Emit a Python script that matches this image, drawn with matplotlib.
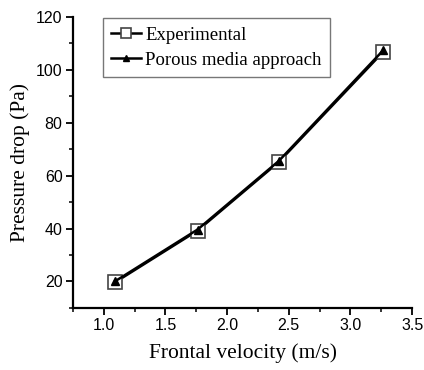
import matplotlib.pyplot as plt
from matplotlib.ticker import MultipleLocator

velocity = [1.09, 1.76, 2.42, 3.265]
experimental = [19.6, 39.2, 65.2, 106.8]
porous = [20.0, 39.6, 65.6, 107.4]

fig = plt.figure(figsize=(4.24, 3.7), dpi=100)
ax = fig.add_axes([0.172, 0.168, 0.800, 0.786])

ax.plot(velocity, experimental, color='black', linewidth=1.8, marker='s',
        markersize=9.5, markerfacecolor='white', markeredgecolor='#444444',
        markeredgewidth=1.2, label='Experimental')
ax.plot(velocity, porous, color='black', linewidth=1.8, marker='^',
        markersize=6, markerfacecolor='black', label='Porous media approach')

ax.set_xlim(0.75, 3.5)
ax.set_ylim(10, 120)
ax.xaxis.set_minor_locator(MultipleLocator(0.25))
ax.yaxis.set_minor_locator(MultipleLocator(10))
ax.set_yticks([20, 40, 60, 80, 100, 120])
ax.set_xticks([1.0, 1.5, 2.0, 2.5, 3.0, 3.5])
ax.set_xticklabels(['1.0', '1.5', '2.0', '2.5', '3.0', '3.5'])

ax.spines['top'].set_visible(False)
ax.spines['right'].set_visible(False)
ax.spines['left'].set_linewidth(1.6)
ax.spines['bottom'].set_linewidth(1.6)
ax.tick_params(which='major', direction='out', length=5, width=1.3,
               labelsize=11.5, pad=2.5)
ax.tick_params(which='minor', direction='out', length=3, width=1.1)
for lbl in ax.get_xticklabels() + ax.get_yticklabels():
    lbl.set_family('Liberation Sans')

ax.set_xlabel('Frontal velocity (m/s)', family='Liberation Serif',
              fontsize=15.5, labelpad=7)
ax.set_ylabel('Pressure drop (Pa)', family='Liberation Serif',
              fontsize=15.5, labelpad=4)

leg = ax.legend(loc='upper left', bbox_to_anchor=(0.088, 0.995),
                borderaxespad=0, markerscale=0.75,
                prop={'family': 'Liberation Serif', 'size': 13.5},
                frameon=True, fancybox=False, edgecolor='#555555',
                handlelength=1.6, handletextpad=0.2, borderpad=0.45,
                labelspacing=0.4)
leg.get_frame().set_linewidth(1.0)

fig.savefig('out.png', dpi=100)
